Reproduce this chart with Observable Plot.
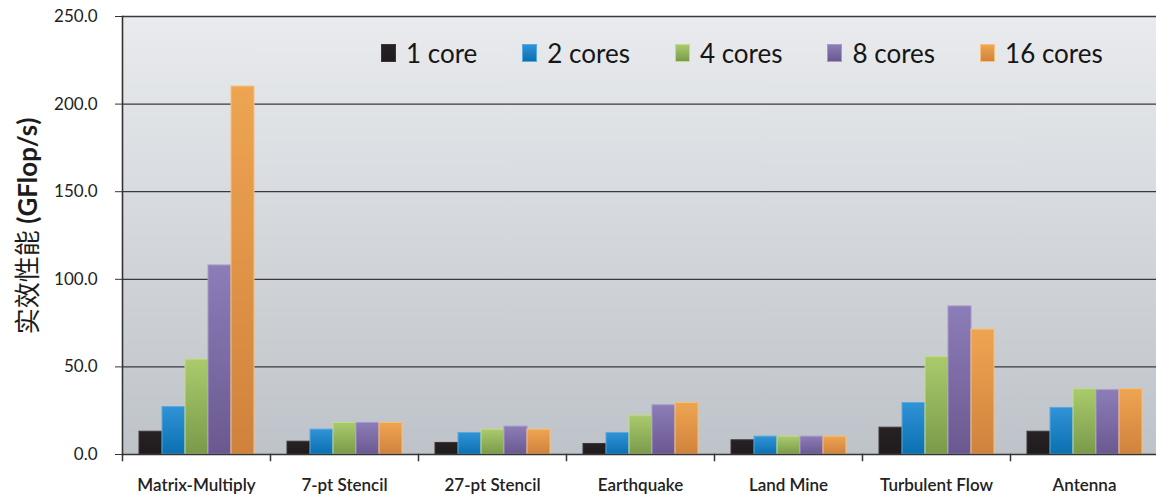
<!DOCTYPE html>
<html>
<head>
<meta charset="utf-8">
<script src="https://cdn.jsdelivr.net/npm/d3@7"></script>
<script src="https://cdn.jsdelivr.net/npm/@observablehq/plot@0.6"></script>
<style>
  html, body { margin: 0; padding: 0; background: #fff; }
  #chart { position: relative; width: 1156px; height: 495px; overflow: hidden; font-family: Lato, "Noto Sans", sans-serif; }
  #legend { position: absolute; top: 37px; left: 381px; display: flex; align-items: center; font-size: 26px; color: #161616; }
  #legend .item { display: flex; align-items: center; margin-right: 45px; }
  #legend .swatch { width: 15px; height: 18px; margin-right: 10px; box-sizing: border-box; }
  #ytitle { position: absolute; left: 25px; top: 226px; transform: translate(-50%, -50%) rotate(-90deg);
            white-space: nowrap; font-size: 26px; color: #1c1c1c; }
  #ytitle .zh { font-family: "Noto Sans CJK SC", sans-serif; }
  #ytitle .unit { font-family: Lato, sans-serif; font-weight: bold; }
</style>
</head>
<body>
<svg width="0" height="0" style="position:absolute"><defs id="grads"></defs></svg>
<div id="chart">
  <div id="ytitle"><span class="zh">实效性能</span> <span class="unit">(GFlop/s)</span></div>
  <div id="legend"></div>
</div>
<script>
// Benchmarks on the x axis
const categories = ["Matrix-Multiply", "7-pt Stencil", "27-pt Stencil", "Earthquake", "Land Mine", "Turbulent Flow", "Antenna"];
// Core counts (one bar per benchmark each)
const seriesNames = ["1 core", "2 cores", "4 cores", "8 cores", "16 cores"];
// Effective performance, GFlop/s
const core1   = [13.0,  7.3,  6.6,  6.0,  8.1, 15.3, 13.0];
const cores2  = [27.1, 14.2, 12.3, 12.3, 10.2, 29.4, 26.6];
const cores4  = [54.2, 18.0, 14.2, 22.2, 10.2, 55.7, 37.3];
const cores8  = [107.9, 18.0, 15.9, 28.1, 10.2, 84.5, 36.7];
const cores16 = [210.0, 18.0, 14.2, 29.4, 10.2, 71.3, 37.3];
const yTicks = [0, 50, 100, 150, 200, 250];

const seriesValues = [core1, cores2, cores4, cores8, cores16];
const data = categories.flatMap((category, i) =>
  seriesNames.map((series, j) => ({category, series, value: seriesValues[j][i]})));

// Bar shading: top and bottom colour of each series
const barTop    = ["#262223", "#3193d6", "#aacb6c", "#8c7db8", "#eea552"];
const barBottom = ["#201c1d", "#0a70b0", "#7a9a4a", "#6b5890", "#d0823c"];
const barEdge   = ["#3a3637", "#5aa9e0", "#c2dc8c", "#a698c9", "#f5bf7e"];

const defs = d3.select("#grads");
const addGrad = (id, top, bottom) => {
  const g = defs.append("linearGradient").attr("id", id).attr("x1", 0).attr("y1", 0).attr("x2", 0).attr("y2", 1);
  g.append("stop").attr("offset", "0%").attr("stop-color", top);
  g.append("stop").attr("offset", "100%").attr("stop-color", bottom);
};
seriesNames.forEach((_, i) => addGrad(`bar${i}`, barTop[i], barBottom[i]));
addGrad("plotbg", "#e9ebee", "#bec3c9");

const W = 1156, H = 495, mTop = 16, mBottom = 41, mLeft = 120;

const chart = Plot.plot({
  width: W,
  height: H,
  marginTop: mTop,
  marginBottom: mBottom,
  marginLeft: mLeft,
  marginRight: -3,
  style: {fontFamily: "Lato, 'Noto Sans', sans-serif", fontSize: "16px", color: "#222", background: "transparent", overflow: "hidden"},
  fx: {domain: categories, padding: 0, label: null},
  x: {domain: seriesNames, paddingInner: 0, paddingOuter: 0.7, axis: null},
  y: {domain: [0, 250], label: null},
  color: {type: "ordinal", domain: seriesNames, range: seriesNames.map((_, i) => `url(#bar${i})`)},
  marks: [
    Plot.frame({facet: "super", fill: "url(#plotbg)"}),
    // horizontal gridlines, repeated in every benchmark group so they join up
    Plot.ruleY(yTicks.slice(1), {stroke: "#3a3a3a", strokeWidth: 1.3}),
    Plot.barY(data, {
      fx: "category", x: "series", y: "value", fill: "series",
      stroke: (d) => barEdge[seriesNames.indexOf(d.series)], strokeWidth: 1
    }),
    // short ticks between benchmark groups, below the baseline
    Plot.frame({anchor: "left", insetTop: H - mTop - mBottom, insetBottom: -6, stroke: "#333", strokeWidth: 1.5}),
    Plot.ruleY([0], {stroke: "#333", strokeWidth: 1.6}),
    Plot.frame({anchor: "left", facet: "super", stroke: "#333", strokeWidth: 1.6}),
    Plot.axisY({ticks: yTicks, tickFormat: (d) => d.toFixed(1), tickSize: 7, tickPadding: 18, fontSize: 17, label: null, stroke: "#333"}),
    Plot.axisFx({anchor: "bottom", tickSize: 0, tickPadding: 24, fontWeight: 600, fontSize: 17, label: null})
  ]
});
document.getElementById("chart").prepend(chart);

// Legend inside the plot area
const legend = d3.select("#legend");
seriesNames.forEach((name, i) => {
  const item = legend.append("div").attr("class", "item");
  item.append("div").attr("class", "swatch")
    .style("background", `linear-gradient(${barTop[i]}, ${barBottom[i]})`)
    .style("border", `1px solid ${barEdge[i]}`);
  item.append("span").text(name);
});
</script>
</body>
</html>
